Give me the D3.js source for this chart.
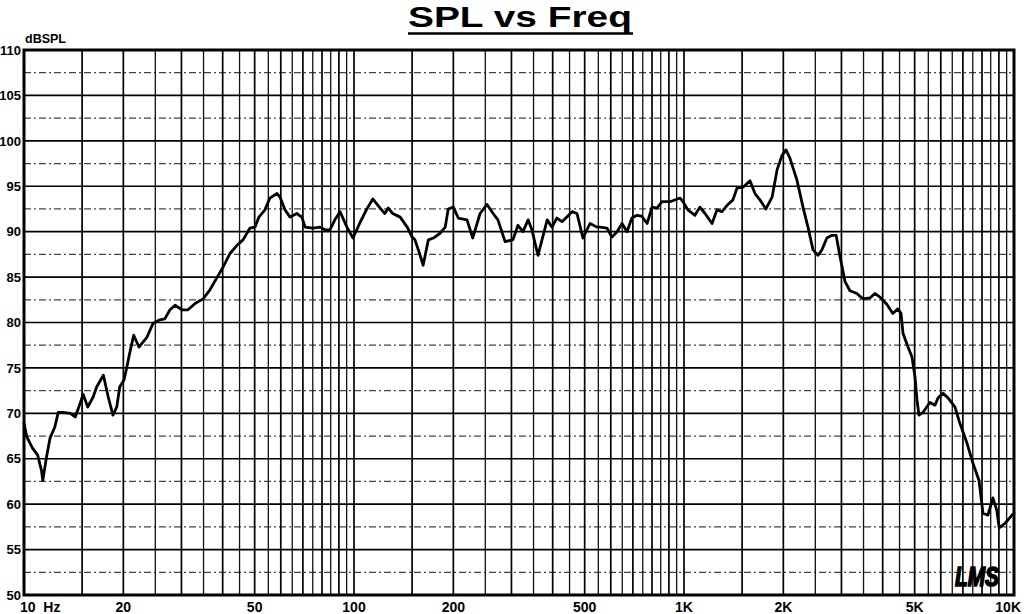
<!DOCTYPE html>
<html>
<head>
<meta charset="utf-8">
<script src="https://cdn.jsdelivr.net/npm/d3@7/dist/d3.min.js"></script>
<style>
  html, body { margin: 0; padding: 0; background: #fff; }
  svg { display: block; }
  text { font-family: "Liberation Sans", Arial, sans-serif; font-weight: bold; fill: #000; }
</style>
</head>
<body>
<svg id="chart" width="1024" height="614"></svg>
<script>
// ---- data ----
const freqs = [10,10.2,10.6,11.0,11.3,11.4,11.7,12.0,12.4,12.7,13.1,13.8,14.3,14.8,15.1,15.6,16.2,16.6,17.4,18.0,
  18.6,19.1,19.5,20.1,20.5,20.9,21.5,22.3,23.6,24.6,25.8,26.7,27.7,28.7,30.1,31.4,33.0,34.9,36.6,38.5,
  40.1,42.1,44.2,46.1,48.4,50.1,51.5,53.7,55.6,58.4,59.7,61.8,64.0,67.1,69.5,71.1,75.1,78.8,81.7,84.5,
  87.5,90.7,95.2,99.3,104,109,114,120,124,127,131,138,145,150,153,158,162,168,174,182,
  189,193,200,207,220,229,241,253,264,273,287,303,314,325,337,346,361,385,398,412,
  427,458,474,494,519,545,556,584,605,627,649,672,695,720,745,773,800,828,858,907,
  973,993,1028,1079,1117,1158,1216,1259,1303,1359,1407,1448,1510,1585,1641,1699,1771,1849,1914,1982,
  2037,2094,2198,2294,2375,2460,2547,2618,2710,2806,2891,2972,3076,3184,3342,3484,3660,3789,3923,4117,
  4293,4446,4545,4611,4773,4908,5012,5082,5152,5297,5560,5762,5888,6095,6310,6622,6855,7206,7510,7834,
  8054,8337,8630,8872,9016,9397,9862,10000];
const spl = [68.9,67.4,66.2,65.4,63.7,62.6,65.2,67.3,68.5,70.1,70.1,70.0,69.6,71.1,72.1,70.7,71.8,72.9,74.2,71.8,
  69.8,70.7,72.9,73.7,75.1,76.6,78.6,77.3,78.4,79.9,80.3,80.4,81.4,81.9,81.4,81.4,82.1,82.6,83.6,85.0,
  86.1,87.6,88.5,89.1,90.4,90.5,91.6,92.4,93.7,94.2,93.8,92.4,91.6,92.0,91.6,90.5,90.4,90.5,90.2,90.2,
  91.3,92.2,90.5,89.3,90.9,92.4,93.6,92.6,92.0,92.6,92.0,91.6,90.5,89.4,89.1,87.6,86.3,89.1,89.3,89.8,
  90.5,92.5,92.7,91.5,91.3,89.3,92.0,93.0,92.0,91.3,88.9,89.1,90.7,90.0,91.3,90.2,87.4,91.3,90.5,91.5,
  91.1,92.2,92.0,89.3,90.9,90.5,90.5,90.4,89.4,90.0,90.9,90.0,91.5,91.8,91.7,90.9,92.7,92.6,93.3,93.3,
  93.7,93.3,92.4,91.8,92.7,92.0,90.9,92.4,92.2,93.0,93.5,94.8,94.9,95.6,94.2,93.5,92.5,93.8,96.8,98.4,
  99.0,98.1,95.7,92.7,90.5,88.0,87.4,88.0,89.3,89.6,89.6,87.2,84.5,83.5,83.2,82.6,82.7,83.2,82.8,82.0,
  81.0,81.5,81.0,78.8,77.3,76.2,74.0,71.5,69.8,70.1,71.2,70.9,71.7,72.2,71.7,70.7,68.9,66.7,64.5,62.6,
  59.0,58.8,60.7,59.3,57.4,57.9,58.8,59.0];

const yTicks = [50,55,60,65,70,75,80,85,90,95,100,105,110];
const yMinor = [52.5,57.5,62.5,67.5,72.5,77.5,82.5,87.5,92.5,97.5,102.5,107.5];
const xTicks = [10,20,50,100,200,500,1000,2000,5000,10000];
const xTickLabels = ["10  Hz","20","50","100","200","500","1K","2K","5K","10K"];
const decades = [10,100,1000];
const gridMajorMult = [1,1.5,2,3,4,5,6,7,8,9];
const gridMinorMult = [2.5,3.5,4.5,5.5,6.5,7.5,8.5,9.5];
const title = "SPL vs Freq";
const yUnit = "dBSPL";

// ---- layout ----
const L = 24, R = 1014, T = 50, B = 595;
const svg = d3.select("#chart");
const x = d3.scaleLog().domain([10,10000]).range([L,R]);
const y = d3.scaleLinear().domain([50,110]).range([B,T]);

const gMajorF = decades.flatMap(d => gridMajorMult.map(m => d*m)).filter(f => f > 10 && f < 10000);
const gMinorF = decades.flatMap(d => gridMinorMult.map(m => d*m)).filter(f => f > 10 && f < 10000);

const grid = svg.append("g");
grid.selectAll(".hmin").data(yMinor).join("line")
  .attr("x1", L).attr("x2", R).attr("y1", d => y(d)).attr("y2", d => y(d))
  .attr("stroke", "#444").attr("stroke-width", 1.3).attr("stroke-dasharray", "7,3,2,3");
grid.selectAll(".hmaj").data(yTicks).join("line")
  .attr("x1", L).attr("x2", R).attr("y1", d => y(d)).attr("y2", d => y(d))
  .attr("stroke", "#000").attr("stroke-width", 1.6);
grid.selectAll(".vmin").data(gMinorF).join("line")
  .attr("x1", d => x(d)).attr("x2", d => x(d)).attr("y1", T).attr("y2", B)
  .attr("stroke", "#111").attr("stroke-width", 1.3);
grid.selectAll(".vmaj").data(gMajorF).join("line")
  .attr("x1", d => x(d)).attr("x2", d => x(d)).attr("y1", T).attr("y2", B)
  .attr("stroke", "#000").attr("stroke-width", 1.7);

svg.append("rect").attr("x", L).attr("y", T).attr("width", R - L).attr("height", B - T)
  .attr("fill", "none").attr("stroke", "#000").attr("stroke-width", 3);

const data = freqs.map((f,i) => [f, spl[i]]);
svg.append("path").datum(data)
  .attr("d", d3.line().x(d => x(d[0])).y(d => y(d[1])))
  .attr("fill", "none").attr("stroke", "#000").attr("stroke-width", 2.8)
  .attr("stroke-linejoin", "round").attr("stroke-linecap", "round");

svg.selectAll(".ylab").data(yTicks).join("text")
  .attr("x", 21).attr("y", d => y(d)).attr("dy", "0.36em")
  .attr("text-anchor", "end").attr("font-size", 13)
  .text(d => d);
svg.append("text").attr("x", 25).attr("y", 43).attr("font-size", 12.5).text(yUnit);

svg.selectAll(".xlab").data(xTicks).join("text")
  .attr("x", (d,i) => i === 0 ? 20 : (i === xTicks.length - 1 ? 1021 : x(d)))
  .attr("y", 612)
  .attr("text-anchor", (d,i) => i === 0 ? "start" : (i === xTicks.length - 1 ? "end" : "middle"))
  .attr("font-size", 14)
  .attr("xml:space", "preserve")
  .style("white-space", "pre")
  .text((d,i) => xTickLabels[i]);

svg.append("text").attr("x", 408).attr("y", 27.3).attr("font-size", 30)
  .attr("textLength", 224).attr("lengthAdjust", "spacingAndGlyphs").text(title);
svg.append("line").attr("x1", 408).attr("x2", 633).attr("y1", 33.5).attr("y2", 33.5)
  .attr("stroke", "#000").attr("stroke-width", 2.5);

svg.append("text").attr("x", 955).attr("y", 586).attr("font-size", 28)
  .attr("font-family", "DejaVu Serif").attr("font-style", "italic").attr("font-weight", "normal")
  .attr("fill", "none").attr("stroke", "#000").attr("stroke-width", 1.6)
  .attr("textLength", 44).attr("lengthAdjust", "spacingAndGlyphs")
  .text("LMS");
</script>
</body>
</html>
